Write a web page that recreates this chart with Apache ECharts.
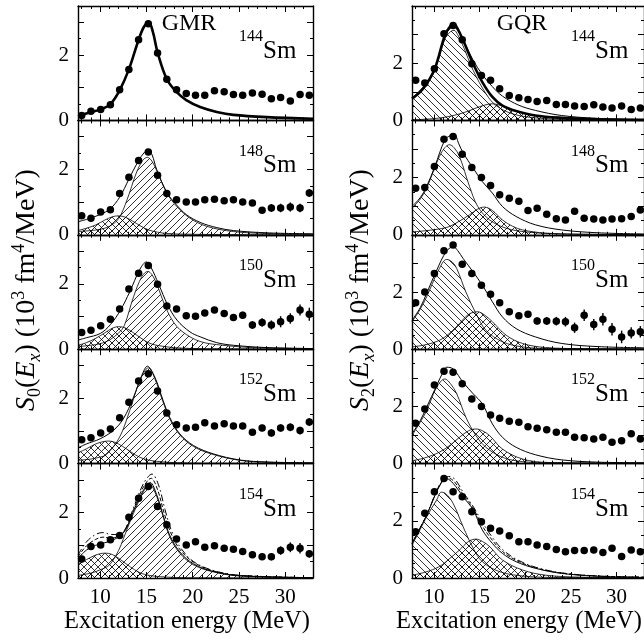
<!DOCTYPE html>
<html><head><meta charset="utf-8">
<script src="https://cdn.jsdelivr.net/npm/echarts@6/dist/echarts.min.js"></script>
<style>html,body{margin:0;padding:0;background:#fff}#c{width:644px;height:641px}</style>
</head><body><div id="c"></div>
<script>
// ---------------- DATA ----------------
const ex = [8.0, 9.0, 10.05, 11.1, 12.1, 13.1, 14.15, 15.2, 16.2, 17.2, 18.25, 19.3, 20.3, 21.3, 22.35, 23.4, 24.4, 25.4, 26.45, 27.5, 28.5, 29.5, 30.55, 31.6, 32.6];
const xMajorTicks = [10, 15, 20, 25, 30];
const xMinorTicks = [8, 9, 11, 12, 13, 14, 16, 17, 18, 19, 21, 22, 23, 24, 26, 27, 28, 29, 31, 32, 33];
const yLabelValues = [0, 2];
const isotopes = ['144', '148', '150', '152', '154'];

// GMR, S0 data points and errors
const s0_144 = [0.15,0.28,0.33,0.48,0.94,1.56,2.47,2.96,2.06,1.26,0.94,0.82,0.77,0.77,0.91,0.88,0.79,0.77,0.84,0.80,0.66,0.70,0.59,0.79,0.77];
const s0_148 = [0.58,0.51,0.70,0.77,1.26,1.76,2.27,2.53,1.82,1.26,1.07,1.00,1.00,1.07,1.09,1.04,1.07,1.00,0.97,0.75,0.82,0.82,0.85,0.82,1.28];
const s0_150 = [0.51,0.58,0.72,0.92,1.23,1.84,2.32,2.56,1.99,1.32,1.23,1.02,1.01,1.11,1.20,1.09,0.97,1.04,0.74,0.82,0.74,0.84,0.94,1.20,1.07];
const s0_152 = [0.73,0.79,0.94,1.06,1.40,1.88,2.53,2.75,2.22,1.55,1.19,1.09,1.11,1.25,1.15,1.22,1.15,1.15,0.96,1.09,0.94,1.09,1.11,1.01,1.27];
const s0_154 = [0.58,0.96,1.01,1.17,1.30,1.86,2.44,2.80,2.19,1.63,1.19,1.01,1.11,0.94,0.99,0.91,0.88,0.81,0.71,0.65,0.65,0.84,0.94,0.91,0.74];
const e0_144 = [0.03,0.03,0.03,0.03,0.03,0.03,0.03,0.03,0.03,0.03,0.03,0.03,0.03,0.03,0.03,0.03,0.04,0.04,0.04,0.05,0.05,0.05,0.07,0.08,0.08];
const e0_148 = [0.03,0.03,0.03,0.03,0.03,0.03,0.03,0.03,0.03,0.03,0.04,0.04,0.04,0.04,0.05,0.05,0.06,0.07,0.08,0.10,0.12,0.13,0.14,0.13,0.12];
const e0_150 = [0.03,0.03,0.03,0.03,0.04,0.04,0.04,0.04,0.04,0.04,0.05,0.05,0.06,0.07,0.08,0.09,0.10,0.11,0.12,0.13,0.14,0.17,0.16,0.17,0.20];
const e0_152 = [0.03,0.03,0.03,0.03,0.03,0.03,0.03,0.03,0.03,0.04,0.04,0.04,0.05,0.05,0.06,0.06,0.07,0.08,0.09,0.10,0.11,0.11,0.12,0.12,0.12];
const e0_154 = [0.03,0.03,0.03,0.03,0.04,0.04,0.04,0.04,0.04,0.05,0.05,0.05,0.06,0.06,0.07,0.07,0.08,0.09,0.10,0.10,0.11,0.13,0.15,0.16,0.12];

// GQR, S2 data points and errors
const s2_144 = [1.40,1.31,1.81,3.03,3.32,2.82,1.98,1.57,1.40,1.11,0.87,0.79,0.73,0.66,0.70,0.56,0.56,0.50,0.49,0.55,0.47,0.43,0.50,0.38,0.43];
const s2_148 = [1.63,1.65,2.39,3.34,3.44,2.82,2.35,2.00,1.72,1.40,1.28,1.17,0.85,0.93,0.72,0.56,0.52,0.82,0.58,0.55,0.52,0.55,0.56,0.64,0.87];
const s2_150 = [1.62,2.00,2.65,3.44,3.64,2.97,2.65,2.24,1.92,1.62,1.31,1.17,1.22,0.99,0.99,0.98,0.96,0.75,1.19,0.86,1.05,0.70,0.43,0.57,0.61];
const s2_152 = [1.41,1.91,2.75,3.23,3.19,2.79,2.26,2.00,1.70,1.59,1.48,1.45,1.29,1.24,1.18,1.10,1.10,0.92,0.90,0.86,0.92,0.75,0.80,1.04,0.86];
const s2_154 = [1.62,2.26,3.02,3.48,3.02,2.84,2.32,1.97,1.74,1.64,1.48,1.27,1.27,1.15,1.10,1.00,0.92,0.96,0.96,0.98,0.89,1.04,0.75,0.98,0.92];
const e2_144 = [0.03,0.03,0.03,0.03,0.03,0.03,0.03,0.03,0.03,0.03,0.03,0.03,0.03,0.03,0.03,0.03,0.03,0.04,0.04,0.04,0.04,0.04,0.04,0.04,0.04];
const e2_148 = [0.03,0.03,0.03,0.03,0.03,0.03,0.03,0.03,0.03,0.03,0.04,0.05,0.06,0.07,0.08,0.08,0.09,0.12,0.10,0.10,0.10,0.10,0.10,0.10,0.10];
const e2_150 = [0.03,0.03,0.03,0.03,0.03,0.03,0.04,0.05,0.06,0.08,0.10,0.11,0.12,0.13,0.14,0.15,0.17,0.18,0.20,0.20,0.22,0.22,0.22,0.20,0.20];
const e2_152 = [0.03,0.03,0.03,0.03,0.03,0.03,0.03,0.03,0.04,0.05,0.06,0.07,0.07,0.08,0.08,0.09,0.09,0.10,0.10,0.10,0.10,0.10,0.10,0.10,0.10];
const e2_154 = [0.03,0.03,0.03,0.03,0.03,0.03,0.03,0.03,0.04,0.04,0.05,0.05,0.06,0.07,0.07,0.08,0.08,0.09,0.09,0.10,0.10,0.10,0.10,0.10,0.10];

// GMR fit curves [E, value]
const fit0_144 = [[7.6,0.13],[8,0.16],[8.9,0.25],[10,0.33],[11.1,0.5],[12.1,0.92],[13.1,1.56],[14.1,2.42],[14.7,2.85],[15.25,3.0],[15.7,2.7],[16.2,2.08],[17.2,1.26],[18.25,0.87],[19.3,0.62],[20.8,0.41],[22.6,0.26],[24.4,0.17],[28,0.1],[33,0.05]];
const fit0_148 = [[7.6,0.4],[8.5,0.47],[10,0.62],[11.1,0.8],[12.1,1.15],[13.1,1.7],[14.1,2.25],[14.8,2.53],[15.2,2.58],[15.6,2.45],[16.1,2.0],[17.2,1.3],[18.2,0.93],[19.3,0.62],[20.8,0.38],[22.6,0.22],[24.4,0.13],[28,0.06],[33,0.03]];
const hi0_148 = [[7.6,0.1],[9,0.13],[10,0.17],[11,0.26],[12,0.5],[12.9,1.07],[13.9,1.89],[14.6,2.28],[15.1,2.37],[15.6,2.25],[16.1,1.97],[17.2,1.28],[18.3,0.86],[19.7,0.51],[21.5,0.26],[24.4,0.1],[28,0.04],[33,0.02]];
const lo0_148 = [[7.6,0.13],[8.5,0.2],[9.5,0.3],[10.5,0.45],[11.3,0.55],[12,0.58],[12.7,0.54],[13.5,0.42],[14.3,0.28],[15.2,0.15],[16.2,0.08],[17.2,0.04],[19,0.02],[22,0.01],[33,0]];
const fit0_150 = [[7.6,0.28],[8.5,0.35],[10,0.48],[11.1,0.75],[12.2,1.2],[13.2,1.76],[14.3,2.45],[15.0,2.67],[15.5,2.5],[16.3,2.0],[17.3,1.35],[18.3,0.89],[19.7,0.53],[20.8,0.38],[22.6,0.2],[24.4,0.12],[28,0.05],[33,0.02]];
const hi0_150 = [[7.6,0.08],[9,0.12],[10,0.17],[11,0.28],[12,0.5],[12.6,0.72],[13.6,1.6],[14.5,2.22],[15.15,2.38],[15.6,2.28],[16.1,2.0],[17.2,1.2],[18.3,0.69],[19.7,0.38],[21,0.22],[22.6,0.14],[26.5,0.05],[33,0.02]];
const lo0_150 = [[7.6,0.12],[8.5,0.2],[9.5,0.33],[10.5,0.5],[11.3,0.64],[12,0.69],[12.8,0.64],[13.6,0.5],[14.4,0.34],[15.2,0.2],[16.1,0.12],[17.9,0.05],[20,0.02],[23,0.01],[33,0]];
const fit0_152 = [[7.6,0.48],[8.5,0.6],[10,0.76],[11.4,1.01],[12.5,1.37],[13.6,2.03],[14.5,2.7],[15.1,2.98],[15.9,2.65],[16.8,1.93],[17.5,1.42],[18.6,0.91],[20.1,0.55],[22.2,0.3],[25.1,0.11],[28,0.05],[33,0.02]];
const hi0_152 = [[7.6,0.1],[9,0.14],[10,0.2],[10.7,0.28],[12.1,0.81],[13.2,1.63],[14.3,2.55],[15.2,2.93],[15.9,2.6],[16.8,1.88],[17.5,1.38],[18.6,0.88],[20.1,0.52],[22.2,0.28],[25.1,0.1],[28,0.04],[33,0.02]];
const lo0_152 = [[7.6,0.33],[8.5,0.45],[9.5,0.6],[10.3,0.67],[10.9,0.69],[11.6,0.65],[12.4,0.53],[13.3,0.36],[14.3,0.19],[15.2,0.11],[16.1,0.07],[18,0.03],[21,0.01],[33,0]];
const fit0_154 = [[7.6,0.6],[8.5,0.85],[9.5,1.0],[10.5,1.08],[11.3,1.15],[12.2,1.3],[12.8,1.5],[13.6,2.05],[14.7,2.7],[15.4,2.92],[16.1,2.55],[16.8,1.92],[17.5,1.32],[18.6,0.8],[20.1,0.43],[22.2,0.2],[25.1,0.07],[33,0.01]];
const dash0_154 = [[7.6,0.65],[8.5,0.98],[9.5,1.18],[10.3,1.25],[11.2,1.22],[12.2,1.32],[12.8,1.52],[13.6,2.1],[14.7,2.8],[15.5,3.05],[16.2,2.7],[16.9,2.0],[17.6,1.4],[18.6,0.88],[20.1,0.48],[22.2,0.22],[25.1,0.08],[33,0.01]];
const dot0_154 = [[7.6,0.7],[8.5,1.1],[9.5,1.33],[10.3,1.39],[11.2,1.33],[12.2,1.35],[12.8,1.55],[13.6,2.15],[14.7,2.9],[15.6,3.18],[16.3,2.85],[17,2.1],[17.7,1.45],[18.7,0.92],[20.1,0.5],[22.2,0.23],[25.1,0.08],[33,0.01]];
const hi0_154 = [[7.6,0.08],[9,0.15],[10,0.25],[11,0.4],[12,0.85],[12.5,1.2],[13.6,1.98],[14.7,2.65],[15.3,2.88],[16.1,2.5],[16.8,1.88],[17.5,1.27],[18.6,0.76],[20.1,0.4],[22.2,0.19],[25.1,0.06],[33,0.01]];
const lo0_154 = [[7.6,0.42],[8.5,0.56],[9.5,0.7],[10.5,0.76],[11.3,0.72],[12.2,0.56],[13.2,0.35],[14.3,0.16],[15.3,0.08],[16.5,0.04],[19,0.01],[33,0]];

// GQR fit curves [E, value]
const fit2_144 = [[7.6,0.78],[9.2,1.3],[10.1,1.82],[11.2,2.95],[11.8,3.22],[12.2,3.27],[12.6,3.15],[13.2,2.8],[14.3,2.1],[15.3,1.6],[16.4,1.18],[17.5,0.85],[19.3,0.53],[21.1,0.35],[24,0.17],[28,0.07],[33,0.03]];
const thick2_144 = [[7.6,0.76],[8.5,1.0],[9.2,1.28],[10.1,1.81],[11.2,2.97],[11.8,3.3],[12.2,3.36],[12.6,3.2],[13.2,2.8],[14.3,1.98],[15.3,1.34],[16.4,0.82],[17.5,0.52],[19,0.33],[21.1,0.17],[24,0.09],[28,0.04],[33,0.02]];
const lo2_144 = [[7.6,0.74],[8.5,0.98],[9.2,1.24],[10.1,1.75],[11.2,2.85],[11.8,3.1],[12.2,3.15],[12.6,3.0],[13.2,2.6],[14.3,1.75],[15.7,0.93],[16.8,0.52],[18.6,0.23],[21.1,0.09],[25,0.03],[33,0.01]];
const hi2_144 = [[7.6,0.02],[9.5,0.05],[11,0.1],[12.5,0.2],[13.8,0.33],[15,0.48],[16.4,0.58],[17.5,0.5],[18.6,0.36],[20,0.24],[22,0.13],[25,0.05],[33,0.01]];
const fit2_148 = [[7.6,0.99],[8.5,1.3],[9.2,1.69],[10.1,2.39],[11.2,3.32],[11.8,3.47],[12.25,3.5],[12.7,3.2],[13.2,2.86],[14.3,2.33],[15.3,1.86],[16.4,1.46],[17.5,0.99],[19,0.64],[21.1,0.35],[24,0.17],[28,0.07],[33,0.03]];
const lo2_148 = [[7.6,0.93],[8.5,1.25],[9.2,1.63],[10.6,2.74],[11.2,3.05],[11.7,3.15],[12.2,3.05],[12.8,2.74],[13.9,1.69],[14.8,0.99],[16.1,0.52],[17.9,0.23],[20.4,0.09],[24,0.03],[33,0.01]];
const hi2_148 = [[7.6,0.1],[9,0.14],[10.5,0.2],[11.7,0.29],[12.8,0.48],[13.9,0.7],[14.8,0.9],[15.5,0.97],[16.4,0.85],[17.5,0.52],[18.6,0.3],[19.7,0.17],[22.2,0.06],[26,0.02],[33,0.01]];
const fit2_150 = [[7.6,1.01],[8.5,1.45],[9.2,1.95],[10.3,2.76],[11.4,3.44],[12.15,3.58],[12.6,3.45],[13.2,3.17],[14.3,2.7],[15.3,2.24],[16.4,1.66],[17.5,1.13],[19,0.72],[21.1,0.43],[24,0.2],[28,0.09],[33,0.05]];
const lo2_150 = [[7.6,0.96],[8.5,1.4],[9.2,1.83],[10.5,2.76],[11.4,3.14],[12.0,3.05],[12.5,2.82],[13.5,2.0],[14.6,1.25],[15.7,0.66],[17.5,0.26],[19.7,0.08],[23,0.02],[33,0.01]];
const hi2_150 = [[7.6,0.08],[9,0.15],[10.6,0.31],[11.8,0.58],[12.8,0.9],[13.8,1.22],[14.8,1.31],[15.6,1.18],[16.4,0.96],[17.9,0.49],[19.7,0.2],[22.2,0.06],[26,0.02],[33,0.01]];
const fit2_152 = [[7.6,1.04],[8.5,1.5],[9.2,1.97],[10.3,2.73],[11.0,3.2],[11.4,3.37],[12.1,3.31],[13.2,2.84],[14.3,2.44],[15.3,2.09],[16.4,1.39],[17.5,0.92],[19,0.57],[21.1,0.31],[24,0.13],[28,0.05],[33,0.03]];
const lo2_152 = [[7.6,0.98],[8.5,1.45],[9.2,1.85],[10.3,2.67],[11.2,2.96],[11.8,2.8],[12.5,2.44],[13.5,1.62],[14.6,0.98],[15.7,0.57],[17.5,0.22],[19.7,0.07],[23,0.02],[33,0.01]];
const hi2_152 = [[7.6,0.1],[9,0.2],[10.6,0.4],[11.8,0.65],[12.8,0.92],[13.8,1.15],[14.6,1.21],[15.3,1.15],[16.1,0.98],[17.5,0.51],[19.7,0.16],[22.5,0.04],[33,0.01]];
const fit2_154 = [[7.6,1.21],[9.2,2.2],[10.3,3.02],[11.0,3.4],[11.4,3.47],[12.1,3.31],[13.2,2.84],[14.3,2.38],[15.3,1.68],[16.4,1.21],[17.5,0.86],[19,0.57],[21.1,0.34],[24,0.16],[28,0.06],[33,0.02]];
const dash2_154 = [[7.6,1.21],[9.2,2.2],[10.3,3.03],[11.0,3.43],[11.5,3.5],[12.2,3.38],[13.2,2.92],[14.3,2.44],[15.3,1.82],[16.4,1.32],[17.5,0.93],[19,0.62],[21.1,0.36],[24,0.17],[28,0.07],[33,0.03]];
const dot2_154 = [[7.6,1.21],[9.2,2.2],[10.3,3.05],[11.0,3.45],[11.6,3.55],[12.3,3.45],[13.2,3.0],[14.3,2.5],[15.3,1.95],[16.4,1.42],[17.5,1.0],[19,0.66],[21.1,0.38],[24,0.18],[28,0.07],[33,0.03]];
const lo2_154 = [[7.6,1.15],[8.5,1.7],[9.2,2.14],[10.3,2.73],[10.8,3.0],[11.3,2.95],[12.1,2.61],[13.2,1.79],[14.3,1.04],[15.3,0.57],[17.2,0.22],[19.7,0.07],[23,0.02],[33,0.01]];
const hi2_154 = [[7.6,0.1],[9,0.2],[10.6,0.4],[11.8,0.7],[12.8,0.98],[13.8,1.28],[14.6,1.36],[15.3,1.28],[16.1,1.1],[17.5,0.63],[19.7,0.28],[22.2,0.1],[26,0.03],[33,0.01]];

// ---------------- BUILD ----------------
const FONT = '"Liberation Serif", "Times New Roman", serif';

function hatch(kind) {
  const s = 7;
  const c = document.createElement('canvas');
  c.width = s; c.height = s;
  const ctx = c.getContext('2d');
  ctx.strokeStyle = '#000';
  ctx.lineWidth = 0.8;
  ctx.beginPath();
  if (kind === '/' || kind === 'x') {
    ctx.moveTo(-1, s + 1); ctx.lineTo(s + 1, -1);
    ctx.moveTo(-1, 1); ctx.lineTo(1, -1);
    ctx.moveTo(s - 1, s + 1); ctx.lineTo(s + 1, s - 1);
  }
  if (kind === '\\' || kind === 'x') {
    ctx.moveTo(-1, -1); ctx.lineTo(s + 1, s + 1);
    ctx.moveTo(s - 1, -1); ctx.lineTo(s + 1, 1);
    ctx.moveTo(-1, s - 1); ctx.lineTo(1, s + 1);
  }
  ctx.stroke();
  return { image: c, repeat: 'repeat' };
}
const PAT = { '/': hatch('/'), '\\': hatch('\\'), 'x': hatch('x') };
const DASHDOT = [7, 3, 1.5, 3];

const panels = [
  { col: 0, row: 0, v: s0_144, e: e0_144, areas: [], lines: [{ d: fit0_144, w: 2.6 }] },
  { col: 0, row: 1, v: s0_148, e: e0_148, areas: [{ d: lo0_148, p: 'x' }, { d: hi0_148, p: '/' }], lines: [{ d: fit0_148, w: 1 }] },
  { col: 0, row: 2, v: s0_150, e: e0_150, areas: [{ d: lo0_150, p: 'x' }, { d: hi0_150, p: '/' }], lines: [{ d: fit0_150, w: 1 }] },
  { col: 0, row: 3, v: s0_152, e: e0_152, areas: [{ d: lo0_152, p: 'x' }, { d: hi0_152, p: '/' }], lines: [{ d: fit0_152, w: 1 }] },
  { col: 0, row: 4, v: s0_154, e: e0_154, areas: [{ d: lo0_154, p: 'x' }, { d: hi0_154, p: '/' }], lines: [{ d: fit0_154, w: 1 }, { d: dash0_154, w: 1, t: 'dashed' }, { d: dot0_154, w: 1, t: DASHDOT }] },
  { col: 1, row: 0, v: s2_144, e: e2_144, areas: [{ d: hi2_144, p: 'x' }, { d: lo2_144, p: '\\' }], lines: [{ d: fit2_144, w: 1 }, { d: thick2_144, w: 2.6 }] },
  { col: 1, row: 1, v: s2_148, e: e2_148, areas: [{ d: hi2_148, p: 'x' }, { d: lo2_148, p: '\\' }], lines: [{ d: fit2_148, w: 1 }] },
  { col: 1, row: 2, v: s2_150, e: e2_150, areas: [{ d: hi2_150, p: 'x' }, { d: lo2_150, p: '\\' }], lines: [{ d: fit2_150, w: 1 }] },
  { col: 1, row: 3, v: s2_152, e: e2_152, areas: [{ d: hi2_152, p: 'x' }, { d: lo2_152, p: '\\' }], lines: [{ d: fit2_152, w: 1 }] },
  { col: 1, row: 4, v: s2_154, e: e2_154, areas: [{ d: hi2_154, p: 'x' }, { d: lo2_154, p: '\\' }], lines: [{ d: fit2_154, w: 1 }, { d: dash2_154, w: 1, t: 'dashed' }, { d: dot2_154, w: 1, t: DASHDOT }] }
];

const TOP0 = 6, PH = 114.4;
const colLeft = [78, 412], colWidth = [235, 234];
const grids = [], xAxes = [], yAxes = [], series = [], gfx = [];
const lineCol = { color: '#000', width: 1.4 };

panels.forEach((p, k) => {
  const top = TOP0 + p.row * PH;
  grids.push({ left: colLeft[p.col], top: top, width: colWidth[p.col], height: PH, containLabel: false });
  const xBase = { gridIndex: k, type: 'value', min: 7.6, max: 33, splitLine: { show: false } };
  const xlab = { fontFamily: FONT, fontSize: 21, color: '#000', margin: 9 };
  xAxes.push(Object.assign({}, xBase, { position: 'bottom', axisLine: { show: true, onZero: false, lineStyle: lineCol },
    axisTick: { show: true, inside: true, length: 6, customValues: xMajorTicks, lineStyle: { color: '#000', width: 1 } },
    axisLabel: Object.assign({ show: p.row === 4, customValues: xMajorTicks }, xlab) }));
  xAxes.push(Object.assign({}, xBase, { position: 'bottom', axisLine: { show: false, onZero: false },
    axisTick: { show: true, inside: true, length: 3, customValues: xMinorTicks, lineStyle: { color: '#000', width: 1 } },
    axisLabel: { show: false } }));
  xAxes.push(Object.assign({}, xBase, { position: 'top', axisLine: { show: true, onZero: false, lineStyle: lineCol },
    axisTick: { show: true, inside: true, length: 6, customValues: xMajorTicks, lineStyle: { color: '#000', width: 1 } },
    axisLabel: { show: false } }));
  xAxes.push(Object.assign({}, xBase, { position: 'top', axisLine: { show: false, onZero: false },
    axisTick: { show: true, inside: true, length: 3, customValues: xMinorTicks, lineStyle: { color: '#000', width: 1 } },
    axisLabel: { show: false } }));
  const ymax = p.col === 0 ? 3.5 : 4;
  const yBase = { gridIndex: k, type: 'value', min: 0, max: ymax, interval: 1, splitLine: { show: false }, minorSplitLine: { show: false },
    axisTick: { show: true, inside: true, length: 6, lineStyle: { color: '#000', width: 1 } },
    minorTick: { show: true, splitNumber: 2, length: 3, lineStyle: { color: '#000', width: 1 } } };
  yAxes.push(Object.assign({}, yBase, { position: 'left', axisLine: { show: true, onZero: false, lineStyle: lineCol },
    axisLabel: { show: true, fontFamily: FONT, fontSize: 21, color: '#000', margin: 9, showMinLabel: true, showMaxLabel: false,
      formatter: v => (yLabelValues.indexOf(v) >= 0 ? String(v) : '') } }));
  yAxes.push(Object.assign({}, yBase, { position: 'right', axisLine: { show: true, onZero: false, lineStyle: lineCol },
    axisLabel: { show: false } }));

  const xi = 4 * k, yi = 2 * k;
  p.areas.forEach((a, j) => {
    series.push({ type: 'line', xAxisIndex: xi, yAxisIndex: yi, data: a.d, smooth: 0.35, symbol: 'none', silent: true,
      lineStyle: { color: '#000', width: 0.8 }, areaStyle: { color: PAT[a.p], opacity: 1 }, z: 2 + j });
  });
  p.lines.forEach(l => {
    series.push({ type: 'line', xAxisIndex: xi, yAxisIndex: yi, data: l.d, smooth: 0.35, symbol: 'none', silent: true,
      lineStyle: { color: '#000', width: l.w, type: l.t || 'solid' }, z: 5 });
  });
  series.push({ type: 'custom', xAxisIndex: xi, yAxisIndex: yi, z: 6, silent: true,
    data: p.v.map((v, i) => [ex[i], v - p.e[i], v + p.e[i]]),
    encode: { x: 0, y: [1, 2] },
    renderItem: (params, api) => {
      const a = api.coord([api.value(0), api.value(1)]);
      const b = api.coord([api.value(0), api.value(2)]);
      return { type: 'line', shape: { x1: a[0], y1: a[1], x2: b[0], y2: b[1] }, style: { stroke: '#000', lineWidth: 1.4 } };
    } });
  series.push({ type: 'scatter', xAxisIndex: xi, yAxisIndex: yi, z: 7, silent: true, symbol: 'circle', symbolSize: 7.5,
    itemStyle: { color: '#000', opacity: 1 }, data: p.v.map((v, i) => [ex[i], v]) });

  // isotope label
  const ax = p.col === 0 ? 263 : 595;
  gfx.push({ type: 'text', x: ax, y: top + 31, silent: true,
    style: { text: isotopes[p.row], font: '16px ' + FONT, fill: '#000', textAlign: 'right', align: 'right', textVerticalAlign: 'middle', verticalAlign: 'middle' } });
  gfx.push({ type: 'text', x: ax, y: top + 45.5, silent: true,
    style: { text: 'Sm', font: '25px ' + FONT, fill: '#000', textAlign: 'left', align: 'left', textVerticalAlign: 'middle', verticalAlign: 'middle' } });
});

function plainText(x, y, text, size) {
  return { type: 'text', x: x, y: y, silent: true,
    style: { text: text, font: size + 'px ' + FONT, fill: '#000', textAlign: 'center', align: 'center', textVerticalAlign: 'middle', verticalAlign: 'middle' } };
}
gfx.push(plainText(189, 24, 'GMR', 24));
gfx.push(plainText(522, 24, 'GQR', 24));
gfx.push(plainText(187, 622, 'Excitation energy (MeV)', 24.5));
gfx.push(plainText(519, 622, 'Excitation energy (MeV)', 24.5));

function yTitle(x, y, sub) {
  const base = { fontFamily: FONT, fontSize: 28, lineHeight: 34, fill: '#000' };
  const small = { fontFamily: FONT, fontSize: 18, lineHeight: 18, fill: '#000' };
  return { type: 'text', x: x, y: y, rotation: Math.PI / 2, silent: true,
    style: { text: '{i|S}{sub|' + sub + '}{n|(}{i|E}{subi|x}{n|) (10}{sup|3}{n| fm}{sup|4}{n|/MeV)}',
      font: '28px ' + FONT, fill: '#000', textAlign: 'center', align: 'center', textVerticalAlign: 'middle', verticalAlign: 'middle',
      rich: {
        i: Object.assign({}, base, { fontStyle: 'italic' }),
        n: Object.assign({}, base),
        sub: Object.assign({}, small, { verticalAlign: 'bottom' }),
        subi: Object.assign({}, small, { verticalAlign: 'bottom', fontStyle: 'italic' }),
        sup: Object.assign({}, small, { verticalAlign: 'top' })
      } } };
}
gfx.push(yTitle(27, 290, '0'));
gfx.push(yTitle(361, 290, '2'));

const chart = echarts.init(document.getElementById('c'), null, { renderer: 'canvas' });
chart.setOption({ animation: false, backgroundColor: '#fff', grid: grids, xAxis: xAxes, yAxis: yAxes, series: series, graphic: { elements: gfx } });
</script></body></html>
